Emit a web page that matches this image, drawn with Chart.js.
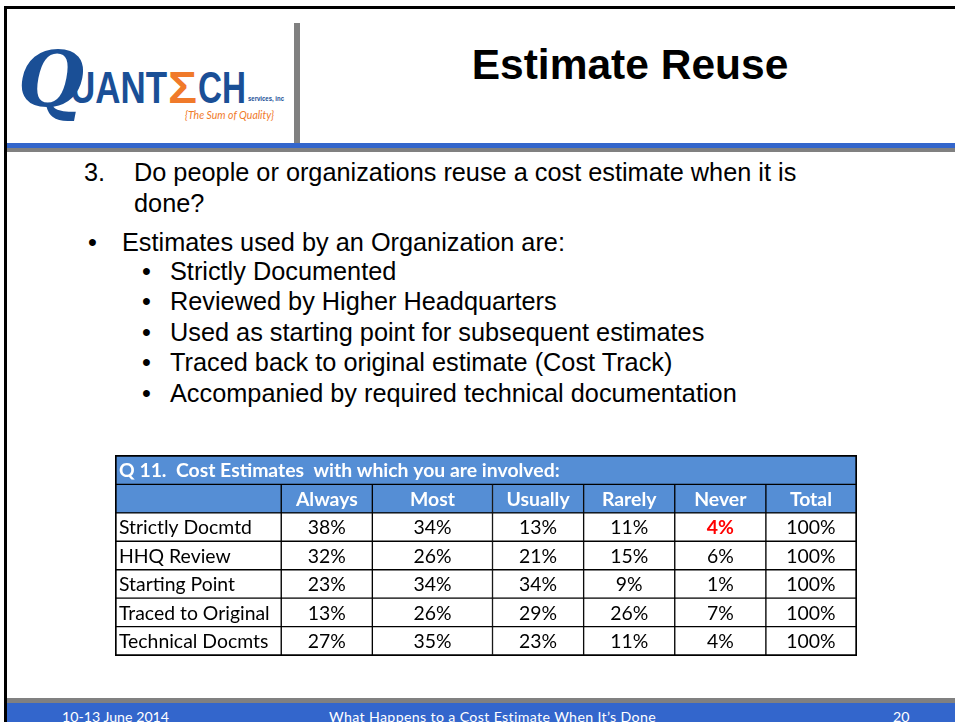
<!DOCTYPE html>
<html>
<head>
<meta charset="utf-8">
<script src="https://cdn.jsdelivr.net/npm/chart.js@4.4.0/dist/chart.umd.min.js"></script>
<style>
  body { margin: 0; width: 955px; height: 722px; overflow: hidden; background: #fff; position: relative; font-family: "Liberation Sans", Arial, sans-serif; }
  .abs { position: absolute; }
  #frameTop { left: 4px; top: 6px; width: 951px; height: 3px; background: #000; }
  #frameLeft { left: 4px; top: 6px; width: 3px; height: 716px; background: #000; }
  #divider { left: 294px; top: 23px; width: 6px; height: 126px; background: #808080; }
  #blueLine { left: 7px; top: 143px; width: 948px; height: 5px; background: #3366cc; }
  #grayLine { left: 7px; top: 148px; width: 948px; height: 4px; background: #808080; }
  #title { left: 300px; width: 660px; top: 40px; text-align: center; font-weight: bold; font-size: 42.5px; line-height: 50px; color: #000; }
  .line { font-size: 25.3px; line-height: 30px; color: #000; white-space: nowrap; }
  #footGray { left: 7px; top: 698px; width: 948px; height: 5px; background: #808080; }
  #footBlue { left: 7px; top: 703px; width: 948px; height: 19px; background: #3366cc; }
  .foot { top: 708px; color: #fff; font-family: Lato, "Open Sans", sans-serif; font-size: 14.2px; line-height: 17px; white-space: nowrap; }
  #logo { left: 18px; top: 38px; width: 270px; height: 90px; }
  #tableBox { left: 114px; top: 454px; width: 744px; height: 203px; }
</style>
</head>
<body>
<div class="abs" id="frameTop"></div>
<div class="abs" id="frameLeft"></div>
<div class="abs" id="divider"></div>
<div class="abs" id="blueLine"></div>
<div class="abs" id="grayLine"></div>

<svg class="abs" id="logo" viewBox="0 0 270 90">
  <text x="0" y="68" font-family="DejaVu Serif, serif" font-style="italic" font-weight="bold" font-size="76" fill="#1a4f96">Q</text>
  <text x="52" y="65" font-family="Liberation Sans Narrow, Liberation Sans, sans-serif" font-weight="bold" font-size="44" fill="#1a4f96" textLength="97" lengthAdjust="spacingAndGlyphs">UANT</text>
  <text x="150" y="65" font-family="Liberation Sans, sans-serif" font-weight="bold" font-size="44" fill="#f07a2a" textLength="29" lengthAdjust="spacingAndGlyphs">Σ</text>
  <text x="180" y="65" font-family="Liberation Sans Narrow, Liberation Sans, sans-serif" font-weight="bold" font-size="44" fill="#1a4f96" textLength="48" lengthAdjust="spacingAndGlyphs">CH</text>
  <text x="230" y="63" font-family="Liberation Sans Narrow, Liberation Sans, sans-serif" font-weight="bold" font-size="8" fill="#1a4f96" textLength="36" lengthAdjust="spacingAndGlyphs">services, inc</text>
  <text x="167" y="81" font-family="Lato, sans-serif" font-style="italic" font-size="12" fill="#f07a2a" textLength="89" lengthAdjust="spacingAndGlyphs">{The Sum of Quality}</text>
</svg>

<div class="abs" id="title">Estimate Reuse</div>

<div class="abs line" style="left:84px;top:157px;">3.</div>
<div class="abs line" style="left:134px;top:157px;">Do people or organizations reuse a cost estimate when it is</div>
<div class="abs line" style="left:134px;top:188px;">done?</div>
<div class="abs line" style="left:88px;top:227px;">•</div>
<div class="abs line" style="left:122px;top:227px;">Estimates used by an Organization are:</div>
<div class="abs line" style="left:142px;top:256px;">•</div>
<div class="abs line" style="left:170px;top:256px;">Strictly Documented</div>
<div class="abs line" style="left:142px;top:286px;">•</div>
<div class="abs line" style="left:170px;top:286px;">Reviewed by Higher Headquarters</div>
<div class="abs line" style="left:142px;top:317px;">•</div>
<div class="abs line" style="left:170px;top:317px;">Used as starting point for subsequent estimates</div>
<div class="abs line" style="left:142px;top:347px;">•</div>
<div class="abs line" style="left:170px;top:347px;">Traced back to original estimate (Cost Track)</div>
<div class="abs line" style="left:142px;top:378px;">•</div>
<div class="abs line" style="left:170px;top:378px;">Accompanied by required technical documentation</div>

<div class="abs" id="tableBox"><canvas id="myChart" width="744" height="203"></canvas></div>

<div class="abs" id="footGray"></div>
<div class="abs" id="footBlue"></div>
<div class="abs foot" style="left:62px;">10-13 June 2014</div>
<div class="abs foot" style="left:329px;letter-spacing:0.35px;">What Happens to a Cost Estimate When It’s Done</div>
<div class="abs foot" style="left:893px;">20</div>

<script>
const tableTitle = 'Q 11.  Cost Estimates  with which you are involved:';
const columns = ['Always', 'Most', 'Usually', 'Rarely', 'Never', 'Total'];
const rowLabels = ['Strictly Docmtd', 'HHQ Review', 'Starting Point', 'Traced to Original', 'Technical Docmts'];
const always = [38, 32, 23, 13, 27];
const most = [34, 26, 34, 26, 35];
const usually = [13, 21, 34, 29, 23];
const rarely = [11, 15, 9, 26, 11];
const never = [4, 6, 1, 7, 4];
const total = [100, 100, 100, 100, 100];
const values = [always, most, usually, rarely, never, total];
// the one cell shown in bold red
const redCell = { row: 0, col: 4 };

// column widths of the table (layout only)
const colWidths = [165, 91, 120, 91, 91, 91, 90];
const edges = [0];
colWidths.forEach(w => edges.push(edges[edges.length - 1] + w));
const tableWidth = edges[edges.length - 1];

const headBlue = '#558ed5';
const cellFont = 'Lato, "Open Sans", sans-serif';

const yLabels = ['title', 'header'].concat(rowLabels);

let datasets = [{
    label: 'title',
    data: yLabels.map((l, i) => i == 0 ? [0, tableWidth] : null),
    backgroundColor: headBlue
}];
for (let c = 0; c < colWidths.length; c++) {
    datasets.push({
        label: 'col' + c,
        data: yLabels.map((l, i) => i == 0 ? null : [edges[c], edges[c + 1]]),
        backgroundColor: ctx => ctx.dataIndex == 1 ? headBlue : '#ffffff'
    });
}
datasets.forEach(d => {
    d.borderColor = '#000000';
    d.borderWidth = 1;
    d.borderSkipped = false;
    d.grouped = false;
    d.barPercentage = 1;
    d.categoryPercentage = 1;
});

const cellText = {
    id: 'cellText',
    afterDatasetsDraw(chart) {
        const c = chart.ctx;
        const a = chart.chartArea;
        c.save();
        c.strokeStyle = '#000';
        c.lineWidth = 1;
        c.strokeRect(a.left - 0.5, a.top - 0.5, a.right - a.left + 1, a.bottom - a.top + 1);
        c.textBaseline = 'middle';

        // title row
        const tb = chart.getDatasetMeta(0).data[0];
        c.fillStyle = '#fff';
        c.font = 'bold 19.4px ' + cellFont;
        c.textAlign = 'left';
        c.fillText(tableTitle, Math.min(tb.x, tb.base) + 3, tb.y + 1);

        for (let col = 0; col < colWidths.length; col++) {
            const meta = chart.getDatasetMeta(col + 1);
            for (let i = 1; i < yLabels.length; i++) {
                const bar = meta.data[i];
                const left = Math.min(bar.x, bar.base);
                const mid = (bar.x + bar.base) / 2;
                let txt = '';
                c.fillStyle = '#000';
                c.font = '19.4px ' + cellFont;
                c.textAlign = 'center';
                if (i == 1) {
                    if (col == 0) continue;
                    txt = columns[col - 1];
                    c.fillStyle = '#fff';
                    c.font = 'bold 19.4px ' + cellFont;
                } else if (col == 0) {
                    txt = rowLabels[i - 2];
                    c.textAlign = 'left';
                } else {
                    txt = values[col - 1][i - 2] + '%';
                    if (redCell.row == i - 2 && redCell.col == col - 1) {
                        c.fillStyle = '#ff0000';
                        c.font = 'bold 19.4px ' + cellFont;
                    }
                }
                c.fillText(txt, c.textAlign == 'left' ? left + 3 : mid, bar.y + 1);
            }
        }
        c.restore();
    }
};

let ctx = document.getElementById('myChart').getContext('2d');
let chart = new Chart(ctx, {
    type: 'bar',
    data: { labels: yLabels, datasets: datasets },
    options: {
        indexAxis: 'y',
        responsive: false,
        animation: false,
        events: [],
        layout: { padding: 2 },
        plugins: { legend: { display: false }, tooltip: { enabled: false } },
        scales: {
            x: { type: 'linear', min: 0, max: tableWidth, display: false },
            y: { display: false }
        }
    },
    plugins: [cellText]
});
</script>
</body>
</html>
